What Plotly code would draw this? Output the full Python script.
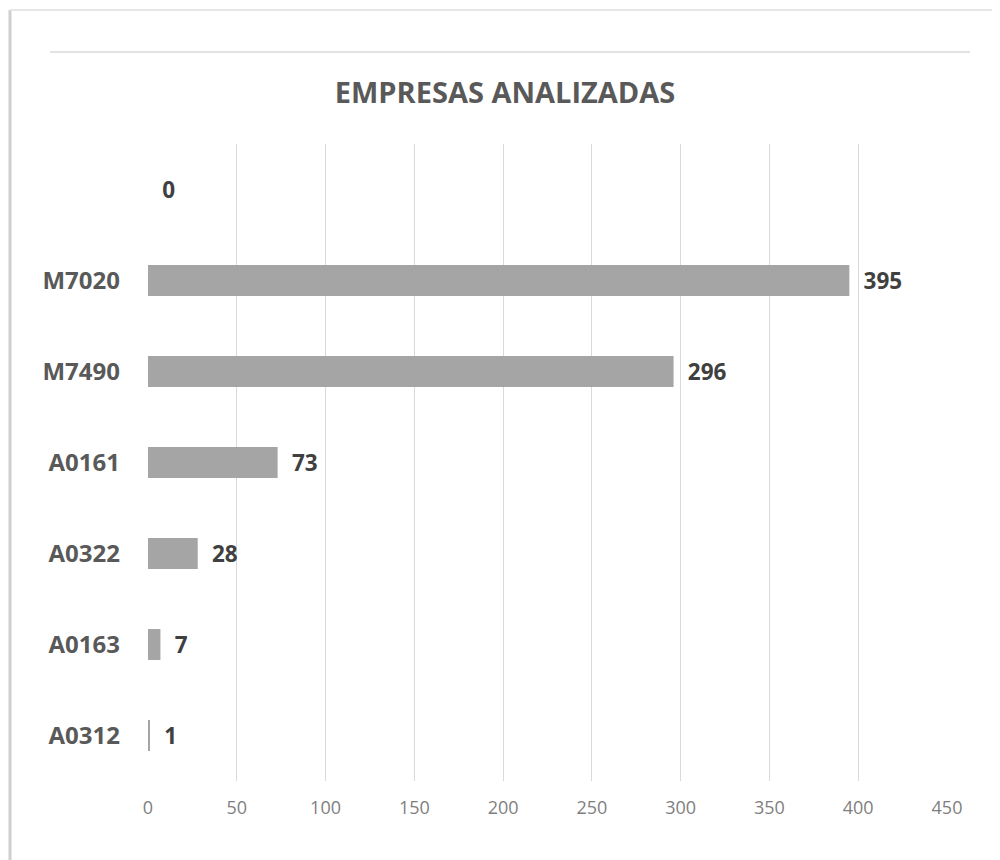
import plotly.graph_objects as go

# datos (de arriba hacia abajo)
codigos = [" ", "M7020", "M7490", "A0161", "A0322", "A0163", "A0312"]
empresas = [0, 395, 296, 73, 28, 7, 1]
ticks_x = [0, 50, 100, 150, 200, 250, 300, 350, 400, 450]

fig = go.Figure(go.Bar(
    x=empresas, y=codigos, orientation="h",
    marker=dict(color="#a5a5a5", line=dict(width=0)),
    width=0.34,
    text=["\u2002" + str(v) for v in empresas],
    textposition="outside",
    textfont=dict(family="Open Sans", size=24, color="#404040", weight="bold"),
    cliponaxis=False,
))

# la página añade 8 px de margen al cuerpo, se compensa aquí
fig.update_layout(
    width=1000, height=860,
    paper_bgcolor="white", plot_bgcolor="white",
    margin=dict(l=140, r=61, t=136, b=87),
    title=dict(text="<b>EMPRESAS ANALIZADAS</b>", x=0.497, xanchor="center",
               y=1 - 85 / 860, yanchor="middle",
               font=dict(family="Open Sans", size=29, color="#595959")),
    showlegend=False,
    xaxis=dict(range=[0, 450], tickvals=ticks_x, showgrid=True, gridcolor="#d9d9d9",
               gridwidth=1, zeroline=False, showline=False, ticks="",
               ticklabelstandoff=14,
               tickfont=dict(family="Open Sans", size=18, color="#7f7f7f")),
    yaxis=dict(autorange="reversed", showgrid=False, zeroline=False, showline=False,
               ticks="", ticklabelstandoff=27,
               tickfont=dict(family="Open Sans", size=24, color="#595959", weight="bold")),
    shapes=[
        dict(type="line", xref="paper", yref="paper", x0=-0.1227, x1=1.0288,
             y0=1.1444, y1=1.1444, line=dict(color="#d9d9d9", width=1.5)),
        dict(type="line", xref="paper", yref="paper", x0=-0.1727, x1=-0.1727,
             y0=-0.13, y1=1.2104, line=dict(color="#cfcfcf", width=3)),
        dict(type="line", xref="paper", yref="paper", x0=-0.1727, x1=1.07,
             y0=1.2104, y1=1.2104, line=dict(color="#e6e6e6", width=2)),
    ],
)

fig.write_html("out.html")
